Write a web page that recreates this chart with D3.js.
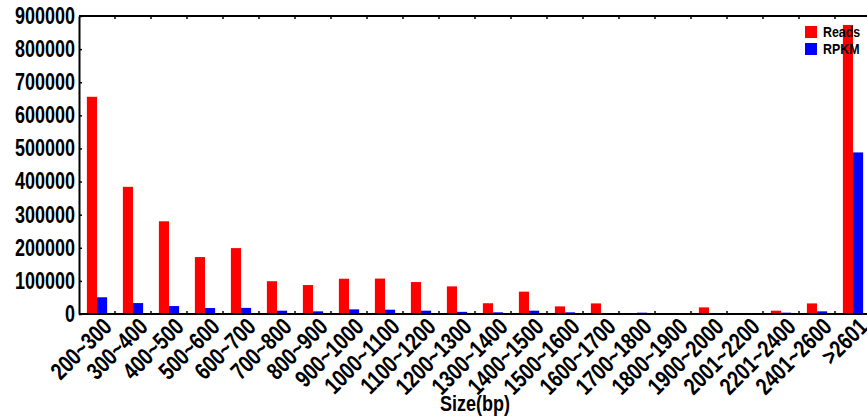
<!DOCTYPE html>
<html>
<head>
<meta charset="utf-8">
<style>
  html, body { margin: 0; padding: 0; background: #fff; }
  svg { display: block; }
  text { font-family: "Liberation Sans", Arial, sans-serif; font-weight: bold; fill: #000; }
  .axis path, .axis line { stroke: #000; }
</style>
</head>
<body>
<svg width="867" height="417"></svg>
<script src="https://d3js.org/d3.v7.min.js"></script>
<script>

var categories = ["200~300", "300~400", "400~500", "500~600", "600~700", "700~800",
  "800~900", "900~1000", "1000~1100", "1100~1200", "1200~1300", "1300~1400",
  "1400~1500", "1500~1600", "1600~1700", "1700~1800", "1800~1900", "1900~2000",
  "2001~2200", "2201~2400", "2401~2600", ">2601"];

var reads = [656000, 384000, 280000, 172000, 199000, 99000, 87500, 106500,
  107000, 96500, 83500, 32500, 67500, 23000, 32000, 1500, 3000, 20000,
  3000, 10000, 32000, 873000];

var rpkm = [50500, 33000, 24000, 18000, 18500, 10000, 8000, 14000,
  13000, 10000, 6500, 5000, 10000, 5000, 3000, 4000, 2500, 2500,
  1000, 4000, 8000, 488000];

var yTicks = [0, 100000, 200000, 300000, 400000, 500000, 600000, 700000, 800000, 900000];

var series = [
  { name: "Reads", values: reads, color: "#ff0000" },
  { name: "RPKM", values: rpkm, color: "#0000ff" }
];

var svg = d3.select("svg");
var margin = { left: 79, top: 16, right: 871, bottom: 314 };

// the original uses a narrow bold face; measure whatever face we got
// and squeeze it so a digit is `digitW` px wide
function narrow(sel, fs, digitW) {
  var probe = svg.append("text").style("font-size", fs + "px").text("0000000000");
  var digit = probe.node().getComputedTextLength() / 10;
  probe.remove();
  var k = digitW / digit;
  sel.each(function() {
    var w = this.getComputedTextLength();
    d3.select(this)
      .attr("textLength", w * k)
      .attr("lengthAdjust", "spacingAndGlyphs");
  });
}

var x = d3.scaleBand()
    .domain(categories)
    .range([margin.left, margin.right]);

var xInner = d3.scaleBand()
    .domain(series.map(function(s) { return s.name; }))
    .range([0, x.bandwidth()])
    .paddingInner(0)
    .paddingOuter(0.78);

var y = d3.scaleLinear()
    .domain([0, 900000])
    .range([margin.bottom, margin.top]);

// bars
series.forEach(function(s) {
  svg.append("g")
    .selectAll("rect")
    .data(categories)
    .enter().append("rect")
      .attr("x", function(d) { return x(d) + xInner(s.name); })
      .attr("y", function(d, i) { return y(s.values[i]); })
      .attr("width", xInner.bandwidth())
      .attr("height", function(d, i) { return y(0) - y(s.values[i]); })
      .attr("fill", s.color);
});

// frame top line with inner ticks
var boundaries = d3.range(1, categories.length).map(function(i) { return margin.left + i * x.step(); });

svg.append("line")
  .attr("x1", margin.left).attr("x2", margin.right)
  .attr("y1", margin.top).attr("y2", margin.top)
  .attr("stroke", "#000").attr("stroke-width", 2);

svg.append("g").selectAll("line")
  .data(boundaries).enter().append("line")
    .attr("x1", function(d) { return d; }).attr("x2", function(d) { return d; })
    .attr("y1", margin.top).attr("y2", margin.top + 3)
    .attr("stroke", "#000").attr("stroke-width", 1.5);

// bottom axis line + inner ticks
svg.append("line")
  .attr("x1", margin.left).attr("x2", margin.right)
  .attr("y1", margin.bottom).attr("y2", margin.bottom)
  .attr("stroke", "#000").attr("stroke-width", 2);

svg.append("g").selectAll("line")
  .data(boundaries).enter().append("line")
    .attr("x1", function(d) { return d; }).attr("x2", function(d) { return d; })
    .attr("y1", margin.bottom).attr("y2", margin.bottom - 3)
    .attr("stroke", "#000").attr("stroke-width", 1.5);

// x labels
svg.append("g").selectAll("text")
  .data(categories).enter().append("text")
    .attr("transform", function(d) {
      return "translate(" + (x(d) + x.bandwidth() / 2 + 4) + "," + (margin.bottom + 2) + ") rotate(-45)";
    })
    .attr("text-anchor", "end")
    .attr("dy", "0.72em")
    .style("font-size", "24px")
    .text(function(d) { return d; })
    .call(narrow, 24, 10.6);

// y axis
var yAxis = svg.append("g")
  .attr("class", "axis")
  .attr("transform", "translate(" + margin.left + ",0)")
  .call(d3.axisLeft(y).tickValues(yTicks).tickSizeInner(-3).tickSizeOuter(0).tickPadding(4)
    .tickFormat(d3.format("d")));

yAxis.select(".domain").attr("stroke-width", 2);
yAxis.selectAll(".tick line").attr("stroke-width", 1.5);
yAxis.selectAll("text").style("font-size", "23px").attr("fill", "#000").call(narrow, 23, 10);

// axis title
svg.append("text")
  .attr("x", (margin.left + margin.right) / 2)
  .attr("y", 411)
  .attr("text-anchor", "middle")
  .style("font-size", "22px")
  .text("Size(bp)")
  .call(narrow, 22, 10);

// legend
var legend = svg.append("g").attr("transform", "translate(805,26)");
series.forEach(function(s, i) {
  legend.append("rect")
    .attr("x", 0).attr("y", i * 17)
    .attr("width", 12).attr("height", 12)
    .attr("fill", s.color);
  legend.append("text")
    .attr("x", 18).attr("y", i * 17 + 11)
    .style("font-size", "15px")
    .text(s.name)
    .call(narrow, 15, 6.9);
});

</script>
</body>
</html>
